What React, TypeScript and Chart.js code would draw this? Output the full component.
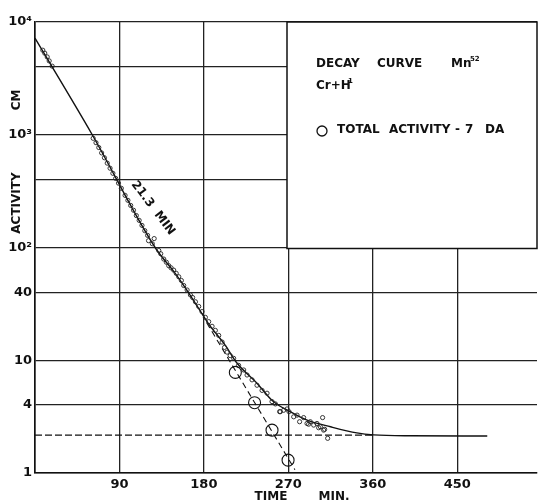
import React, { useEffect, useRef } from "react";
import { Chart, registerables } from "chart.js";

Chart.register(...registerables);

// Solid decay curve (time in min, activity)
const curveT = [0, 61, 128, 150, 167, 185, 203, 215, 237, 254, 272, 290, 315, 343, 361, 400, 482];
const curveV = [7180, 1000, 100, 58, 36, 21, 13.5, 9.5, 6.2, 4.3, 3.5, 2.94, 2.57, 2.27, 2.18, 2.14, 2.13];

// Measured points (small circles)
const smallT = [
  8.3, 10.4, 13.0, 15.1, 18.3,
  62, 65, 68, 71, 74, 77, 80, 83, 86, 89, 92, 96, 99, 102, 105, 108, 111, 114, 117, 120, 121, 125, 127,
  131.9, 134, 137.2, 140, 142.5, 145, 147.8, 150.5, 153.2, 156, 158.5, 162.1, 165.6, 168, 171, 174.5, 178, 181.6, 185.1, 188.7, 192.2, 195.8, 199.4, 202, 204.7,
  208, 211.7, 217, 222.4, 226, 231.3, 236.6, 242, 247.3, 252.6, 256.2, 260.7, 261.5, 265, 268.6, 270.7, 275.7, 279.3, 282, 286.3, 289.9, 291.6, 293.4, 297, 300.5, 302.3, 304.1, 306.5, 307.6, 308.7, 311.9,
];
const smallV = [
  5620, 5290, 4900, 4520, 4060,
  930, 850, 770, 690, 625, 560, 505, 455, 410, 372, 335, 290, 262, 236, 214, 192, 174, 157, 141, 128, 115, 108, 120,
  94, 88, 79, 74, 69, 66, 63, 59, 55, 51, 46, 42, 38, 36, 33, 30, 27, 24, 22, 20, 18.4, 16.6, 14.5, 13, 11.8,
  11, 10.4, 9.0, 8.2, 7.4, 6.7, 6.0, 5.4, 5.1, 4.3, 4.1, 3.5, 3.5, 3.6, 3.7, 3.5, 3.15, 3.26, 2.85, 3.1, 2.75, 2.71, 2.85, 2.66, 2.75, 2.52, 2.57, 3.1, 2.4, 2.44, 2.03,
];

// Total activity - 7 DA (large circles)
const bigT = [213.5, 234, 252.6, 269.7];
const bigV = [7.8, 4.2, 2.4, 1.3];

// Dashed 21.3 min decay extension
const decayT = [183, 277];
const decayV = [21.5, 1.07];

// Dashed background level
const bgT = [0, 362];
const bgV = [2.17, 2.17];

const xTicks = [0, 90, 180, 270, 360, 450];
const yTicks = [1, 4, 10, 40, 100, 400, 1000, 4000, 10000];
const yLabels: Record<number, string> = { 1: "1", 4: "4", 10: "10", 40: "40", 100: "10²", 1000: "10³", 10000: "10⁴" };

const zip = (t: number[], v: number[]) => t.map((x, i) => ({ x, y: v[i] }));

const FONT = "'DejaVu Sans', sans-serif";
const AREA_RIGHT = 537;

const overlay = {
  id: "overlay",
  beforeDraw(chart: any) {
    const ctx = chart.ctx;
    ctx.save();
    ctx.fillStyle = "#fff";
    ctx.fillRect(0, 0, chart.width, chart.height);
    ctx.restore();
  },
  afterLayout(chart: any) {
    const ca = chart.chartArea;
    const xs = chart.scales.x;
    if (Math.abs(ca.right - AREA_RIGHT) > 0.5) {
      ca.right = AREA_RIGHT;
      ca.width = ca.right - ca.left;
      xs.right = AREA_RIGHT;
      xs.width = xs.right - xs.left;
      xs.configure();
    }
  },
  afterDraw(chart: any) {
    const ctx = chart.ctx;
    const ys = chart.scales.y;
    ctx.save();
    // legend box
    const bx = 287;
    const by = ys.getPixelForValue(10000);
    const bx2 = 537;
    const by2 = ys.getPixelForValue(100) + 1;
    ctx.fillStyle = "#fff";
    ctx.fillRect(bx, by, bx2 - bx, by2 - by);
    ctx.strokeStyle = "#111";
    ctx.lineWidth = 1.5;
    ctx.strokeRect(bx, by, bx2 - bx, by2 - by);

    ctx.fillStyle = "#111";
    ctx.textBaseline = "middle";
    ctx.textAlign = "left";
    const B = `bold 12px ${FONT}`;
    const S = `bold 7px ${FONT}`;
    ctx.font = B;
    ctx.fillText("DECAY", 316, 64);
    ctx.fillText("CURVE", 377, 64);
    ctx.fillText("Mn", 451, 64);
    ctx.font = S;
    ctx.fillText("52", 470, 59);
    ctx.font = B;
    ctx.fillText("Cr+H", 316, 86);
    ctx.font = S;
    ctx.fillText("1", 348, 81);
    ctx.font = B;
    ctx.beginPath();
    ctx.lineWidth = 1.3;
    ctx.arc(322, 131, 5, 0, Math.PI * 2);
    ctx.stroke();
    ctx.fillText("TOTAL", 337, 130);
    ctx.fillText("ACTIVITY", 389, 130);
    ctx.fillText("-", 455, 130);
    ctx.fillText("7", 465, 130);
    ctx.fillText("DA", 485, 130);

    // axis titles
    ctx.textAlign = "center";
    ctx.save();
    ctx.translate(17, 100);
    ctx.rotate(-Math.PI / 2);
    ctx.fillText("CM", 0, 0);
    ctx.restore();
    ctx.save();
    ctx.translate(17, 203);
    ctx.rotate(-Math.PI / 2);
    ctx.fillText("ACTIVITY", 0, 0);
    ctx.restore();

    ctx.fillText("TIME", 271, 497);
    ctx.fillText("MIN.", 334, 497);

    // slope annotation
    ctx.save();
    ctx.translate(153, 208);
    ctx.rotate((53 * Math.PI) / 180);
    ctx.fillText("21.3  MIN", 0, 0);
    ctx.restore();

    ctx.restore();
  },
};

export default function App() {
  const ref = useRef<HTMLCanvasElement | null>(null);
  useEffect(() => {
    document.body.style.margin = "0";
    const canvas = ref.current!;
    const chart = new Chart(canvas, {
      type: "scatter",
      data: {
        datasets: [
          {
            data: zip(bigT, bigV),
            showLine: false,
            pointRadius: 6,
            pointBorderWidth: 1.1,
            pointBorderColor: "#111",
            pointBackgroundColor: "rgba(0,0,0,0)",
          } as any,
          {
            data: zip(smallT, smallV),
            showLine: false,
            pointRadius: 2.1,
            pointBorderWidth: 0.9,
            pointBorderColor: "#222",
            pointBackgroundColor: "rgba(0,0,0,0)",
          } as any,
          {
            data: zip(curveT, curveV),
            showLine: true,
            borderColor: "#111",
            borderWidth: 1.4,
            pointRadius: 0,
            cubicInterpolationMode: "monotone",
          } as any,
          {
            data: zip(decayT, decayV),
            showLine: true,
            borderColor: "#111",
            borderWidth: 1.1,
            borderDash: [6, 4],
            pointRadius: 0,
          } as any,
          {
            data: zip(bgT, bgV),
            showLine: true,
            borderColor: "#111",
            borderWidth: 1.2,
            borderDash: [7, 3],
            pointRadius: 0,
          } as any,
        ],
      },
      options: {
        animation: false,
        responsive: false,
        layout: { padding: { left: 0, right: 2, top: 22, bottom: 0 } },
        plugins: { legend: { display: false }, tooltip: { enabled: false } },
        scales: {
          x: {
            type: "linear",
            min: 0,
            max: 535,
            afterBuildTicks: (s: any) => {
              s.ticks = xTicks.map((v) => ({ value: v }));
            },
            afterFit: (s: any) => {
              s.height = 29;
              s.paddingLeft = 0;
              s.paddingRight = 0;
            },
            grid: { color: "#222", lineWidth: 1.3, drawTicks: false },
            border: { display: true, color: "#111", width: 1.6 },
            ticks: {
              padding: 4,
              color: "#111",
              font: { family: FONT, size: 13, weight: "bold" },
              callback: (v: any) => (v === 0 ? "" : String(v)),
            },
          },
          y: {
            type: "logarithmic",
            min: 1,
            max: 10000,
            afterBuildTicks: (s: any) => {
              s.ticks = yTicks.map((v) => ({ value: v }));
            },
            afterFit: (s: any) => {
              s.width = 35;
              s.paddingTop = 0;
              s.paddingBottom = 0;
              s.paddingLeft = 0;
              s.paddingRight = 0;
            },
            grid: { color: "#222", lineWidth: 1.3, drawTicks: false },
            border: { display: true, color: "#111", width: 1.6 },
            ticks: {
              padding: 3,
              color: "#111",
              font: { family: FONT, size: 13, weight: "bold" },
              autoSkip: false,
              callback: (v: any) => yLabels[v as number] ?? "",
            },
          },
        },
      },
      plugins: [overlay],
    } as any);
    return () => chart.destroy();
  }, []);
  return <canvas ref={ref} width={539} height={502} style={{ display: "block", width: 539, height: 502 }} />;
}
